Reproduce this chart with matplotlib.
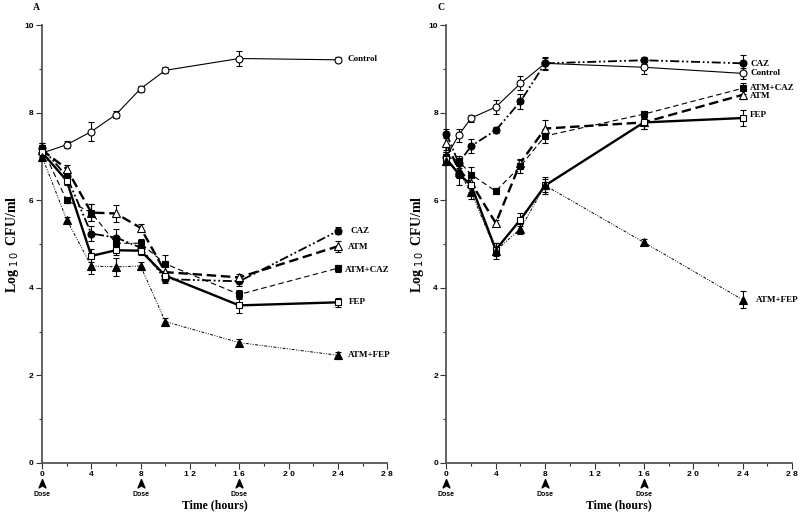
import matplotlib.pyplot as plt
import numpy as np
from matplotlib.path import Path
from matplotlib.transforms import blended_transform_factory

# ---- panel A data ----
t_a = [0, 2, 4, 6, 8, 10, 16, 24]
a_control = [7.08, 7.27, 7.57, 7.96, 8.55, 8.97, 9.24, 9.21]
a_control_err = [0.1, 0.08, 0.21, 0.07, 0.07, 0.07, 0.18, 0.06]
a_caz = [7.2, 6.55, 5.24, 5.15, 4.92, 4.2, 4.15, 5.3]
a_caz_err = [0.1, 0.1, 0.18, 0.2, 0.1, 0.08, 0.1, 0.08]
a_atm = [7.15, 6.72, 5.72, 5.7, 5.37, 4.36, 4.24, 4.95]
a_atm_err = [0.1, 0.08, 0.2, 0.2, 0.08, 0.2, 0.08, 0.12]
a_atmcaz = [7.2, 6.0, 5.72, 5.02, 5.02, 4.55, 3.85, 4.45]
a_atmcaz_err = [0.1, 0.07, 0.2, 0.1, 0.1, 0.2, 0.1, 0.08]
a_fep = [7.1, 6.45, 4.73, 4.86, 4.85, 4.28, 3.6, 3.67]
a_fep_err = [0.1, 0.1, 0.15, 0.1, 0.1, 0.1, 0.18, 0.1]
a_atmfep = [7.0, 5.56, 4.5, 4.48, 4.5, 3.23, 2.75, 2.46]
a_atmfep_err = [0.1, 0.06, 0.18, 0.2, 0.1, 0.08, 0.08, 0.08]

# ---- panel C data ----
t_c = [0, 1, 2, 4, 6, 8, 16, 24]
c_control = [7.0, 7.49, 7.88, 8.13, 8.67, 9.13, 9.04, 8.9]
c_control_err = [0.1, 0.15, 0.08, 0.16, 0.16, 0.12, 0.15, 0.12]
c_caz = [7.52, 6.85, 7.24, 7.6, 8.26, 9.13, 9.2, 9.13]
c_caz_err = [0.1, 0.12, 0.16, 0.07, 0.18, 0.15, 0.08, 0.18]
c_atm = [7.3, 6.7, 6.4, 5.48, 6.86, 7.64, 7.78, 8.41]
c_atm_err = [0.15, 0.15, 0.2, 0.06, 0.08, 0.2, 0.15, 0.1]
c_atmcaz = [7.0, 6.9, 6.59, 6.21, 6.78, 7.47, 7.97, 8.56]
c_atmcaz_err = [0.1, 0.12, 0.18, 0.07, 0.15, 0.15, 0.08, 0.12]
c_fep = [6.95, 6.6, 6.35, 4.87, 5.56, 6.34, 7.78, 7.88]
c_fep_err = [0.1, 0.25, 0.2, 0.15, 0.15, 0.2, 0.15, 0.18]
c_atmfep = [6.9, 6.65, 6.19, 4.85, 5.35, 6.34, 5.04, 3.73]
c_atmfep_err = [0.1, 0.15, 0.15, 0.18, 0.12, 0.15, 0.07, 0.2]

# label positions at the right end (value axis)
names = ["Control", "CAZ", "ATM", "ATM+CAZ", "FEP", "ATM+FEP"]
a_label_y = [9.23, 5.3, 4.93, 4.41, 3.67, 2.46]
c_names = ["CAZ", "Control", "ATM+CAZ", "ATM", "FEP", "ATM+FEP"]
c_label_y = [9.12, 8.9, 8.56, 8.39, 7.95, 3.73]

dose_times = [0, 8, 16]
x_ticks = [0, 4, 8, 12, 16, 20, 24, 28]
x_ticklabels = ["0", "4", "8", "1 2", "1 6", "2 0", "2 4", "2 8"]
y_ticks = [0, 2, 4, 6, 8, 10]

styles = {
    "Control": dict(ls="-", lw=0.8, marker="o", mfc="white", ms=5),
    "CAZ": dict(ls=(0, (5, 1.5, 1, 1.5, 1, 1.5)), lw=1.3, marker="o", mfc="black", ms=5),
    "ATM": dict(ls=(0, (4, 2)), lw=1.7, marker="^", mfc="white", ms=6),
    "ATM+CAZ": dict(ls=(0, (5, 3)), lw=0.8, marker="s", mfc="black", ms=5),
    "FEP": dict(ls="-", lw=1.7, marker="s", mfc="white", ms=5),
    "ATM+FEP": dict(ls=(0, (3, 1.5, 1, 1.5, 1, 1.5)), lw=0.7, marker="^", mfc="black", ms=6),
}

dose_marker = Path([(0, 1), (0.7, -0.7), (0, -0.25), (-0.7, -0.7), (0, 1)],
                   [Path.MOVETO, Path.LINETO, Path.LINETO, Path.LINETO, Path.CLOSEPOLY])

serif = "Liberation Serif"
sans = "Liberation Sans"

fig = plt.figure(figsize=(8, 5.15), dpi=100)
ax_a = fig.add_axes([0.0525, 0.101, 0.4315, 0.85])
ax_c = fig.add_axes([0.558, 0.101, 0.432, 0.85])


def draw_panel(ax, t, series, errors, label_names, label_ys, label_xs, letter):
    for name, vals, errs in zip(names, series, errors):
        st = styles[name]
        ax.errorbar(t, vals, yerr=errs, color="black", ecolor="black",
                    elinewidth=0.8, capsize=2, capthick=0.8,
                    ls=st["ls"], lw=st["lw"], marker=st["marker"],
                    mfc=st["mfc"], mec="black", mew=0.8, ms=st["ms"],
                    clip_on=False, zorder=3)
    for lab, ly, lx in zip(label_names, label_ys, label_xs):
        ax.text(lx, ly, lab, fontsize=6.5, fontweight="bold",
                family=serif, va="center", ha="left")

    ax.set_xlim(0, 28)
    ax.set_ylim(0, 10)
    ax.set_xticks(x_ticks)
    ax.set_xticklabels(x_ticklabels)
    ax.set_xticks(np.arange(0, 29, 2), minor=True)
    ax.set_yticks(y_ticks)
    ax.set_yticks(np.arange(1, 10, 2), minor=True)
    for s in ["top", "right"]:
        ax.spines[s].set_visible(False)
    for s in ["left", "bottom"]:
        ax.spines[s].set_color("#555555")
        ax.spines[s].set_linewidth(1.3)
    ax.tick_params(which="both", direction="out", color="#333333", width=0.8)
    ax.tick_params(which="major", length=4, labelsize=6, pad=2)
    ax.tick_params(which="minor", length=2.5)
    for lab in ax.get_xticklabels() + ax.get_yticklabels():
        lab.set_fontweight("bold")
        lab.set_family(sans)

    trans = blended_transform_factory(ax.transData, ax.transAxes)
    for d in dose_times:
        ax.plot(d, -0.047, marker=dose_marker, ms=7, color="black",
                transform=trans, clip_on=False)
        ax.text(d, -0.064, "Dose", fontsize=5, fontweight="bold", family=sans,
                ha="center", va="top", transform=trans)

    ax.set_xlabel("Time (hours)", fontsize=8.5, fontweight="bold", family=serif,
                  labelpad=15)
    ax.set_ylabel(r"Log$_{\ 1\,0}$  CFU/ml", fontsize=10, fontweight="bold",
                  family=serif, labelpad=2)
    ax.text(-0.015, 1.04, letter, transform=ax.transAxes, fontsize=7,
            fontweight="bold", family=serif, ha="center", va="center")


draw_panel(ax_a, t_a,
           [a_control, a_caz, a_atm, a_atmcaz, a_fep, a_atmfep],
           [a_control_err, a_caz_err, a_atm_err, a_atmcaz_err, a_fep_err, a_atmfep_err],
           names, a_label_y, [24.8, 25.0, 24.8, 24.6, 24.9, 24.8], "A")
draw_panel(ax_c, t_c,
           [c_control, c_caz, c_atm, c_atmcaz, c_fep, c_atmfep],
           [c_control_err, c_caz_err, c_atm_err, c_atmcaz_err, c_fep_err, c_atmfep_err],
           c_names, c_label_y, [24.6, 24.6, 24.6, 24.6, 24.6, 25.1], "C")

fig.savefig("out.png", dpi=100)
